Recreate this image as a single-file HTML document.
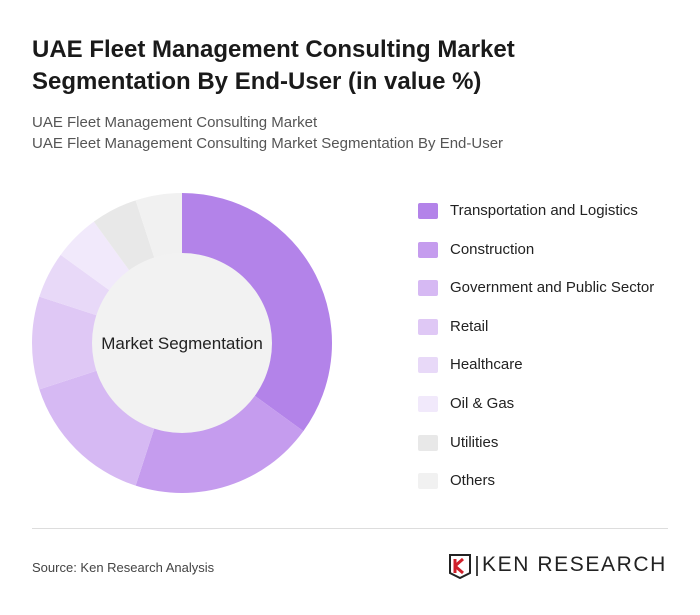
<!DOCTYPE html>
<html><head><meta charset="utf-8"><style>
body{margin:0;width:700px;height:615px;background:#fff;font-family:"Liberation Sans",sans-serif;position:relative;overflow:hidden}
.t{position:absolute;left:32px;top:34px;font-size:24px;font-weight:bold;color:#1a1a1a;line-height:32px}
.s{position:absolute;left:32px;font-size:15px;color:#555}
.leg{position:absolute;left:418px;font-size:15px;color:#222}
.sw{position:absolute;left:0;top:0;width:20px;height:16px;border-radius:2px}
.leg span.l{position:absolute;left:32px;top:-1px;white-space:nowrap}
</style></head><body>
<div class="t">UAE Fleet Management Consulting Market<br>Segmentation By End-User (in value %)</div>
<div class="s" style="top:114px">UAE Fleet Management Consulting Market</div>
<div class="s" style="top:135px">UAE Fleet Management Consulting Market Segmentation By End-User</div>
<svg id="ch" width="700" height="615" style="position:absolute;left:0;top:0"></svg>
<div id="legend"></div>
<div style="position:absolute;left:32px;top:528px;width:636px;height:1px;background:#ddd"></div>
<div class="s" style="top:560px;font-size:13px;color:#444">Source: Ken Research Analysis</div>
<div style="position:absolute;left:448px;top:553px">
<svg width="24" height="26" style="position:absolute;left:0;top:0"><path d="M2 2h20v18l-10 5-10-5z" fill="none" stroke="#222" stroke-width="2"/><path d="M7 6v14M7 13l8-7M7 13l8 7" stroke="#d0202a" stroke-width="3" fill="none"/></svg>
<div style="position:absolute;left:28px;top:3px;width:2px;height:20px;background:#444"></div>
<div style="position:absolute;left:34px;top:0px;font-size:21px;letter-spacing:1.6px;color:#222;white-space:nowrap">KEN RESEARCH</div>
</div>
<script>
const categories=["Transportation and Logistics","Construction","Government and Public Sector","Retail","Healthcare","Oil & Gas","Utilities","Others"];
const values=[35,20,15,10,5,5,5,5];
const colors=["#b383e9","#c59cee","#d6b9f3","#dfc8f5","#e8d9f8","#f1e9fb","#e8e8e8","#f1f1f1"];
const svg=document.getElementById('ch');const NS="http://www.w3.org/2000/svg";
const cx=182,cy=343,R=150,r0=90;
const tot=values.reduce((a,b)=>a+b,0);let a=0;
function pt(ang,rad){return [cx+rad*Math.sin(ang),cy-rad*Math.cos(ang)];}
values.forEach((v,i)=>{const a1=a+v/tot*2*Math.PI;const [x0,y0]=pt(a,R),[x1,y1]=pt(a1,R);const lg=(a1-a)>Math.PI?1:0;
const p=document.createElementNS(NS,'path');p.setAttribute('d',`M${cx} ${cy}L${x0} ${y0}A${R} ${R} 0 ${lg} 1 ${x1} ${y1}Z`);p.setAttribute('fill',colors[i]);


svg.appendChild(p);a=a1;});
const c=document.createElementNS(NS,'circle');c.setAttribute('cx',cx);c.setAttribute('cy',cy);c.setAttribute('r',r0);c.setAttribute('fill','#f2f2f2');


svg.appendChild(c);
const t=document.createElementNS(NS,'text');t.setAttribute('x',cx);t.setAttribute('y',cy+6);t.setAttribute('text-anchor','middle');t.setAttribute('font-size','17');t.setAttribute('fill','#222');t.setAttribute('font-family','Liberation Sans, sans-serif');t.textContent='Market Segmentation';


svg.appendChild(t);
const lg=document.getElementById('legend');
categories.forEach((n,i)=>{const d=document.createElement('div');d.className='leg';d.style.top=(203+i*38.6)+'px';
d.innerHTML=`<div class="sw" style="background:${colors[i]}"></div><span class="l">${n.replace('&','&amp;')}</span>`;


lg.appendChild(d);});
</script>
</body></html>
